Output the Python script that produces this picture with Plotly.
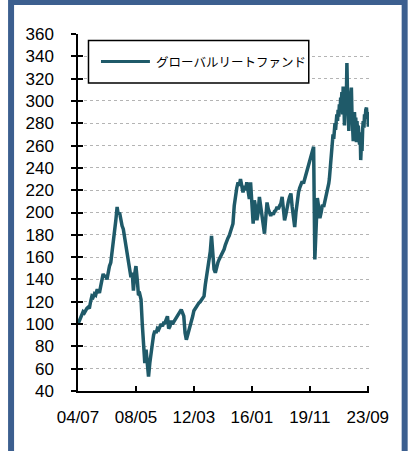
import pandas as pd
import plotly.graph_objects as go

series_name = "グローバルリートファンド"

# monthly readings, 2004/07 - 2020/12
monthly_start = "2004-07-01"
monthly_values = [
    100, 103, 106, 108, 111, 110, 113, 114, 115, 114, 120, 125,
    124, 127, 126, 130, 130, 128, 134, 140, 145, 142, 144, 140,
    147, 152, 155, 163, 172, 180, 193, 205, 198, 200, 192, 188,
    185, 178, 172, 163, 158, 150, 142, 146, 130, 145, 152, 140,
    126, 127, 122, 100, 80, 65, 77, 62, 53, 65, 77, 82,
    90, 94, 92, 96, 95, 97, 100, 98, 101, 101, 104, 107,
    96, 98, 103, 100, 102, 104, 106, 108, 110, 112, 113, 110,
    107, 92, 86, 90, 94, 98, 101, 107, 112, 114, 116, 118,
    119, 120, 122, 124, 125, 135, 143, 150, 155, 165, 179, 160,
    149, 146, 152, 155, 158, 160, 163, 165, 167, 171, 175, 177,
    179, 182, 185, 190, 206, 215, 222, 227, 224, 230, 222, 218,
    224, 220, 227, 218, 212, 227, 205, 190, 211, 205, 193, 200,
    214, 205, 193, 188, 181, 195, 209, 203, 199, 197, 200, 198,
    201, 202, 205, 203, 206, 208, 214, 205, 193, 198, 205, 210,
    214, 217, 205, 195, 187, 200, 211, 218, 222, 226, 228, 226,
    230, 232, 236, 240, 244, 250, 254, 259, 158, 182, 213, 205,
    195, 200, 207, 205, 210, 213,
]

# semi-monthly readings, 2021/01 - 2023/10
semimonthly_start = "2021-01-01"
semimonthly_values = [
    218, 222, 226, 230, 236, 242, 248, 256, 263, 270, 266, 276,
    280, 274, 283, 288, 282, 292, 286, 297, 290, 303, 298, 308,
    288, 313, 300, 278, 296, 310, 300, 334, 305, 292, 273, 300,
    288, 305, 312, 290, 270, 264, 280, 290, 276, 285, 263, 282,
    270, 278, 266, 261, 272, 247, 262, 255, 275, 282, 276, 288,
    284, 292, 294, 286, 290, 277, 285, 281,
]

dates = list(pd.date_range(monthly_start, periods=len(monthly_values), freq="MS")) + \
    list(pd.date_range(semimonthly_start, periods=len(semimonthly_values), freq="SMS"))
values = monthly_values + semimonthly_values

x_tick_dates = ["2004-07-01", "2008-05-01", "2012-03-01", "2016-01-01", "2019-11-01", "2023-09-01"]
x_tick_text = ["04/07", "08/05", "12/03", "16/01", "19/11", "23/09"]
y_ticks = list(range(40, 361, 20))

line_color = "#1f5a69"
border_color = "#3c5f8f"

fig = go.Figure()
fig.add_trace(go.Scatter(
    x=dates, y=values, mode="lines", name=series_name,
    line=dict(color=line_color, width=3.5), showlegend=False,
))
fig.add_trace(go.Scatter(
    x=[dates[0]], y=[None], yaxis="y2", mode="lines",
    showlegend=False, hoverinfo="skip",
))

W, H = 411, 451
L, R, T, B = 78, 369.3, 34, 390.7
pw, ph = R - L, B - T


def px(x):
    return (x - L) / pw


def py(y):
    return (B - y) / ph


font_main = "Liberation Sans, Arial, sans-serif"

fig.update_layout(
    width=W, height=H,
    margin=dict(l=L, r=W - R, t=T, b=H - B, pad=0),
    paper_bgcolor="white", plot_bgcolor="white",
    font=dict(family=font_main, size=17, color="black"),
    xaxis=dict(
        type="date", range=["2004-07-01", "2023-10-01"],
        tickvals=x_tick_dates, ticktext=x_tick_text,
        showgrid=False, showline=True, linecolor="black", linewidth=1.5,
        ticks="inside", ticklen=5, tickwidth=1.5, tickcolor="black",
        ticklabelstandoff=10,
        tickfont=dict(size=17, family=font_main, color="black"),
        zeroline=False,
    ),
    yaxis=dict(
        range=[40, 360], tickvals=y_ticks,
        showgrid=True, gridcolor="#b4b4b4", griddash="dot", gridwidth=1,
        showline=True, linecolor="black", linewidth=1.5,
        ticks="outside", ticklen=5, tickwidth=1.5, tickcolor="black",
        ticklabelstandoff=14,
        tickfont=dict(size=17, family=font_main, color="black"),
        zeroline=False,
    ),
    yaxis2=dict(
        overlaying="y", anchor="x", side="left",
        range=[40, 360], tickvals=y_ticks,
        showgrid=False, showline=False, showticklabels=False,
        ticks="inside", ticklen=5, tickwidth=1.5, tickcolor="black",
        zeroline=False,
    ),
    shapes=[
        # outer frame
        dict(type="rect", xref="paper", yref="paper",
             x0=px(11), x1=px(405), y0=py(475), y1=py(2),
             line=dict(color=border_color, width=6), fillcolor="rgba(0,0,0,0)", layer="above"),
        # legend box
        dict(type="rect", xref="paper", yref="paper",
             x0=px(88.5), x1=px(309), y0=py(83), y1=py(40.5),
             line=dict(color="black", width=1.5), fillcolor="white", layer="above"),
        # legend sample line
        dict(type="line", xref="paper", yref="paper",
             x0=px(101), x1=px(150), y0=py(61.5), y1=py(61.5),
             line=dict(color=line_color, width=3), layer="above"),
    ],
    annotations=[
        dict(text=series_name, xref="paper", yref="paper",
             x=px(154), y=py(61.5), xanchor="left", yanchor="middle",
             showarrow=False,
             font=dict(family="Noto Sans CJK JP", size=12.5, color="black")),
    ],
)

fig.write_html(
    "out.html",
    config={"displayModeBar": False},
    post_script="document.body.style.margin='0';document.body.style.overflow='hidden';",
)
